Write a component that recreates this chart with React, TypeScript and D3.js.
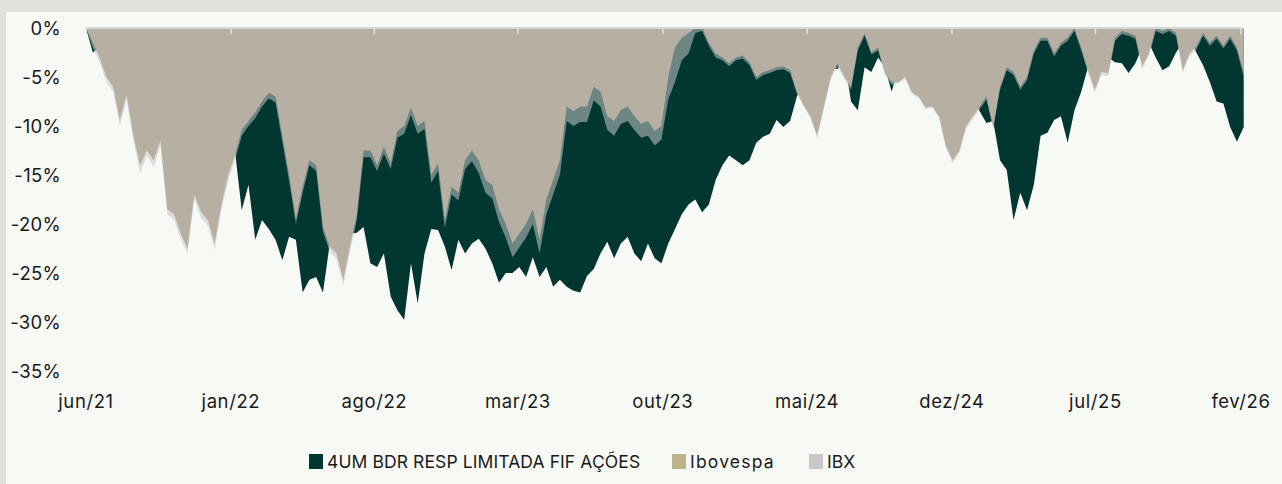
import * as d3 from "d3";

// 10-day sampled drawdowns (%) starting 2021-06-01
const START = new Date(2021, 5, 1);
const STEP_DAYS = 10;

const fundo = [
  0, -2.5, -2.0, -3.5, -4.5, -6.0, -5.0, -7.0, -9.0, -8.5,
  -9.5, -8.0, -11.0, -12.0, -13.5, -14.5, -11.0, -12.0, -13.0, -14.0,
  -12.0, -11.0, -12.5, -18.6, -16.0, -21.6, -19.6, -20.5, -21.6, -23.7,
  -21.3, -21.6, -27.0, -25.7, -25.4, -27.0, -22.0, -21.5, -22.5, -21.0,
  -20.9, -20.3, -24.0, -24.4, -23.0, -27.4, -28.8, -29.8, -24.0, -28.1,
  -23.0, -20.5, -20.6, -22.3, -24.7, -21.6, -23.0, -22.0, -21.5, -22.5,
  -24.0, -26.0, -25.0, -25.0, -24.4, -25.4, -23.4, -25.4, -24.4, -26.4,
  -25.7, -26.4, -26.8, -27.0, -25.3, -24.6, -23.0, -21.8, -23.5, -22.0,
  -21.3, -23.0, -23.8, -22.0, -23.5, -24.0, -22.0, -20.5, -19.0, -18.0,
  -17.5, -18.8, -18.0, -15.5, -14.0, -13.0, -13.5, -14.0, -13.5, -11.7,
  -11.1, -10.8, -9.4, -10.1, -9.5, -7.0, -5.5, -6.0, -7.0, -6.0,
  -4.0, -4.2, -3.0, -7.5, -8.4, -4.0, -4.5, -3.0, -4.0, -6.5,
  -4.0, -4.0, -5.0, -5.5, -6.0, -6.5, -7.0, -8.0, -9.0, -8.0,
  -7.5, -7.0, -8.5, -9.7, -9.5, -13.5, -14.5, -19.6, -16.8, -18.6,
  -16.0, -11.0, -10.7, -9.4, -9.0, -11.7, -8.4, -6.5, -4.0, -3.0,
  -2.5, -3.0, -3.5, -3.6, -4.6, -3.6, -2.0, -1.5, -3.0, -4.3,
  -3.9, -2.5, -1.5, -1.0, -2.5, -3.8, -5.5, -7.5, -7.7, -10.1,
  -11.6, -10.1,
];

const ibovespa = [
  0, -1.5, -3.0, -5.0, -6.0, -9.4, -6.8, -11.0, -14.0, -12.5,
  -13.5, -11.5, -18.5, -19.0, -21.0, -22.5, -17.0, -18.8, -19.6, -22.0,
  -18.0, -15.0, -13.0, -10.4, -9.5, -8.6, -7.5, -6.6, -7.0, -11.0,
  -15.0, -19.5, -16.2, -13.5, -14.0, -20.3, -22.3, -23.0, -25.7, -22.3,
  -19.0, -12.5, -12.5, -14.0, -12.1, -13.8, -10.5, -10.0, -8.1, -10.0,
  -9.5, -15.0, -13.8, -19.6, -16.2, -16.8, -13.5, -12.5, -13.5, -15.5,
  -16.0, -18.5, -20.0, -22.0, -21.0, -20.0, -18.5, -21.6, -17.5, -15.5,
  -13.5, -8.0, -8.5, -8.0, -8.0, -6.0, -6.5, -9.0, -9.5, -8.4,
  -8.0, -9.0, -9.8, -9.5, -10.5, -10.0, -5.0, -2.0, -1.0, -0.5,
  0, 0, -1.5, -2.6, -3.0, -3.6, -3.0, -2.8, -3.5, -5.0,
  -4.5, -4.3, -4.0, -3.9, -4.3, -6.5, -7.9, -9.0, -11.0, -8.0,
  -5.0, -3.6, -5.0, -6.0, -2.0, -0.5, -2.5, -2.0, -4.6, -5.5,
  -5.5, -5.0, -6.6, -7.0, -8.1, -8.0, -9.0, -12.0, -13.5, -12.5,
  -10.0, -9.0, -8.0, -7.0, -10.1, -6.0, -4.0, -4.5, -6.0, -5.0,
  -2.3, -1.0, -1.0, -2.6, -1.5, -1.0, 0, -2.0, -4.3, -6.3,
  -4.5, -4.6, -1.0, -0.3, -0.5, -0.8, -3.9, -2.6, 0, -0.3,
  0, -0.5, -4.3, -2.6, -1.9, -0.5, -1.5, -0.8, -1.8, -0.8,
  -2.0, -4.6,
];

const ibx = [
  0, -2.0, -3.5, -5.5, -6.5, -10.0, -7.3, -11.5, -14.8, -13.0,
  -14.2, -12.0, -19.0, -19.6, -21.6, -23.0, -17.5, -19.4, -20.2, -22.6,
  -18.6, -15.6, -13.5, -11.0, -10.0, -9.2, -8.0, -7.2, -7.6, -11.6,
  -15.6, -20.0, -16.8, -14.0, -14.6, -20.8, -22.8, -23.6, -26.3, -22.8,
  -19.6, -13.2, -13.2, -14.6, -12.8, -14.4, -11.2, -10.8, -8.9, -10.8,
  -10.3, -15.8, -14.6, -20.4, -17.0, -17.6, -14.4, -13.6, -14.8, -16.8,
  -17.4, -19.8, -21.4, -23.4, -22.4, -21.4, -20.0, -23.0, -19.0, -17.0,
  -15.0, -9.5, -10.0, -9.6, -9.6, -7.4, -8.0, -10.4, -11.0, -9.8,
  -9.5, -10.4, -11.2, -11.0, -12.0, -11.4, -7.3, -5.5, -3.3, -2.6,
  -0.5, -0.3, -1.8, -3.0, -3.3, -3.9, -3.3, -3.1, -3.8, -5.3,
  -4.8, -4.6, -4.3, -4.2, -4.6, -6.7, -7.8, -9.2, -11.2, -8.2,
  -5.3, -3.9, -5.2, -6.3, -2.3, -0.8, -2.7, -2.3, -4.8, -5.8,
  -5.7, -5.2, -6.7, -7.2, -8.3, -8.1, -9.2, -12.2, -13.8, -12.8,
  -10.3, -9.3, -8.3, -7.3, -10.3, -6.3, -4.3, -4.8, -6.3, -5.3,
  -2.6, -1.3, -1.3, -2.9, -1.8, -1.3, -0.3, -2.3, -4.6, -6.6,
  -4.8, -4.9, -1.3, -0.6, -0.8, -1.1, -4.2, -2.9, -0.3, -0.6,
  -0.3, -0.8, -4.6, -2.9, -2.2, -0.8, -1.8, -1.1, -2.1, -1.1,
  -2.3, -5.0,
];

const yTicks = [0, -5, -10, -15, -20, -25, -30, -35];
const xTickLabels = ["jun/21", "jan/22", "ago/22", "mar/23", "out/23", "mai/24", "dez/24", "jul/25", "fev/26"];
const xTickDates = [
  new Date(2021, 5, 1), new Date(2022, 0, 1), new Date(2022, 7, 1),
  new Date(2023, 2, 1), new Date(2023, 9, 1), new Date(2024, 4, 1),
  new Date(2024, 11, 1), new Date(2025, 6, 1), new Date(2026, 1, 1),
];

const legendItems = [
  { label: "4UM BDR RESP LIMITADA FIF AÇÕES", color: "#013631", x: 309 },
  { label: "Ibovespa", color: "#bdb38b", x: 672 },
  { label: "IBX", color: "#c8c8c8", x: 809 },
];

const W = 1282;
const H = 484;
const FONT = "Inter, 'Noto Sans', sans-serif";

export default function App() {
  const x = d3.scaleTime()
    .domain([new Date(2021, 5, 1), new Date(2026, 1, 1)])
    .range([86, 1241]);
  const y = d3.scaleLinear().domain([0, -35]).range([28, 371]);

  const dates = fundo.map((_, i) => d3.timeDay.offset(START, i * STEP_DAYS));

  const area = (vals: number[]) =>
    d3.area<number>()
      .x((_, i) => x(dates[i]))
      .y0(y(0))
      .y1(d => y(d))(vals) as string;

  const x0 = x(dates[0]);
  const x1 = x(dates[dates.length - 1]);

  return (
    <div style={{ position: "fixed", left: 0, top: 0 }}>
      <svg width={W} height={H} style={{ display: "block" }}>
        <rect width={W} height={H} fill="#e1e1dd" />
        <rect x={6} y={12} width={W - 6} height={H - 12} fill="#f7f9f5" />

        <path d={area(fundo)} fill="#013631" />
        <path d={area(ibovespa)} fill="#a39276" />
        <path d={area(ibx)} fill="#c6c6c6" fillOpacity={0.55} />
        <line x1={x0} x2={x1} y1={y(0)} y2={y(0)} stroke="#d8d8d6" strokeWidth={2} />
        {xTickDates.map((d, i) => (
          <line key={i} x1={x(d)} x2={x(d)} y1={y(0)} y2={y(0) + 6} stroke="#e4e4e2" strokeWidth={1.5} />
        ))}

        {yTicks.map(t => (
          <text key={t} x={61} y={y(t)} dy="0.36em" textAnchor="end"
            fontFamily={FONT} fontSize={18.5} letterSpacing={0.3} fill="#1a1a1a">
            {t}%
          </text>
        ))}
        {xTickDates.map((d, i) => (
          <text key={i} x={x(d)} y={401} dy="0.36em" textAnchor="middle"
            fontFamily={FONT} fontSize={18.5} letterSpacing={0.6} fill="#1a1a1a">
            {xTickLabels[i]}
          </text>
        ))}

        {legendItems.map(item => (
          <g key={item.label}>
            <rect x={item.x} y={454} width={14} height={15} fill={item.color} />
            <text x={item.x + 18} y={462} dy="0.36em" fontFamily={FONT} fontSize={17.5}
              letterSpacing={item.label === "Ibovespa" ? 1.2 : 0.1} fill="#1a1a1a">
              {item.label}
            </text>
          </g>
        ))}
      </svg>
    </div>
  );
}
